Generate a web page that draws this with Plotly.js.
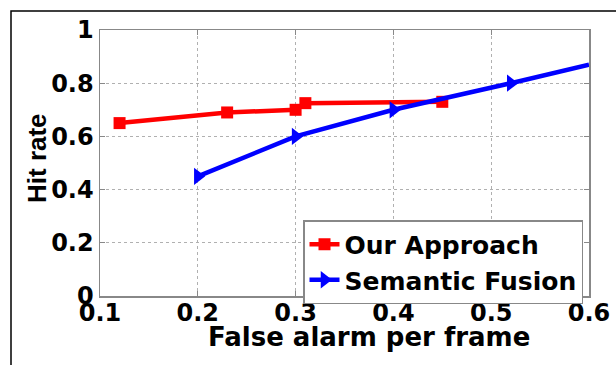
<!DOCTYPE html>
<html>
<head>
<meta charset="utf-8">
<script src="https://cdn.plot.ly/plotly-3.0.1.min.js"></script>
<style>html,body{margin:0;padding:0;background:#fff;}#chart{width:616px;height:365px;}</style>
</head>
<body>
<div id="chart"></div>
<script>
var ourX = [0.12, 0.23, 0.30, 0.31, 0.45];
var ourY = [0.65, 0.69, 0.70, 0.725, 0.73];
var semX = [0.20, 0.30, 0.40, 0.52, 0.60];
var semY = [0.45, 0.60, 0.70, 0.80, 0.87];
var xTicks = [0.1, 0.2, 0.3, 0.4, 0.5, 0.6];
var xTickLabels = ['0.1', '0.2', '0.3', '0.4', '0.5', '0.6'];
var yTicks = [0, 0.2, 0.4, 0.6, 0.8, 1];
var yTickLabels = ['0', '0.2', '0.4', '0.6', '0.8', '1'];

var FONT = 'DejaVu Sans, Arial, sans-serif';

var traces = [
  {x: ourX, y: ourY, name: 'Our Approach', type: 'scatter', mode: 'lines+markers',
   line: {color: '#ff0000', width: 4.5},
   marker: {symbol: 'square', size: 12, color: '#ff0000', line: {width: 0}}},
  {x: semX.slice(3), y: semY.slice(3), name: 'Semantic Fusion', type: 'scatter', mode: 'lines',
   line: {color: '#0000ff', width: 4.5}, showlegend: false},
  {x: semX.slice(0, 4), y: semY.slice(0, 4), name: 'Semantic Fusion', type: 'scatter', mode: 'lines+markers',
   line: {color: '#0000ff', width: 4.5},
   marker: {symbol: 'triangle-right', size: 15, color: '#0000ff', line: {width: 0}}}
];

var layout = {
  width: 616, height: 365,
  margin: {l: 100, r: 27, t: 30, b: 69},
  paper_bgcolor: '#ffffff', plot_bgcolor: '#ffffff',
  showlegend: true,
  font: {family: FONT, color: '#000', weight: 'bold'},
  xaxis: {
    range: [0.1, 0.6], tickvals: xTicks, ticktext: xTickLabels,
    tickfont: {family: FONT, size: 24, weight: 'bold', color: '#000'},
    showgrid: true, gridcolor: '#b0b0b0', griddash: 'dot', gridwidth: 1,
    showline: true, linecolor: '#888', linewidth: 1.5, mirror: 'ticks',
    ticks: 'inside', ticklen: 5, tickcolor: '#888',
    zeroline: false, ticklabelstandoff: -5
  },
  yaxis: {
    range: [0, 1], tickvals: yTicks, ticktext: yTickLabels,
    tickfont: {family: FONT, size: 24, weight: 'bold', color: '#000'},
    showgrid: true, gridcolor: '#b0b0b0', griddash: 'dot', gridwidth: 1,
    showline: true, linecolor: '#888', linewidth: 1.5, mirror: 'ticks',
    ticks: 'inside', ticklen: 5, tickcolor: '#888',
    zeroline: false, ticklabelstandoff: 0
  },
  legend: {
    x: (583 - 100) / 489, y: (296 - 220) / 266, xanchor: 'right', yanchor: 'top',
    bgcolor: '#ffffff', bordercolor: '#888', borderwidth: 1.5,
    font: {family: FONT, size: 25, weight: 'bold', color: '#000'},
    itemwidth: 30, tracegroupgap: 0
  },
  annotations: [
    {text: 'False alarm per frame', xref: 'paper', yref: 'paper',
     x: (369 - 100) / 489, y: (296 - 337) / 266, xanchor: 'center', yanchor: 'middle',
     showarrow: false, font: {family: FONT, size: 26, weight: 'bold', color: '#000'}},
    {text: 'Hit rate', xref: 'paper', yref: 'paper', textangle: -90,
     x: (37 - 100) / 489, y: (296 - 158) / 266, xanchor: 'center', yanchor: 'middle',
     showarrow: false, font: {family: 'Liberation Sans, Arial, sans-serif', size: 26, weight: 'bold', color: '#000'}}
  ],
  shapes: [
    {type: 'rect', xref: 'paper', yref: 'paper',
     x0: (11 - 100) / 489, x1: 1.2, y0: -0.5, y1: (296 - 11) / 266,
     line: {color: '#000', width: 1.5}, layer: 'below'}
  ]
};

Plotly.newPlot('chart', traces, layout, {displayModeBar: false, staticPlot: true});
</script>
</body>
</html>
